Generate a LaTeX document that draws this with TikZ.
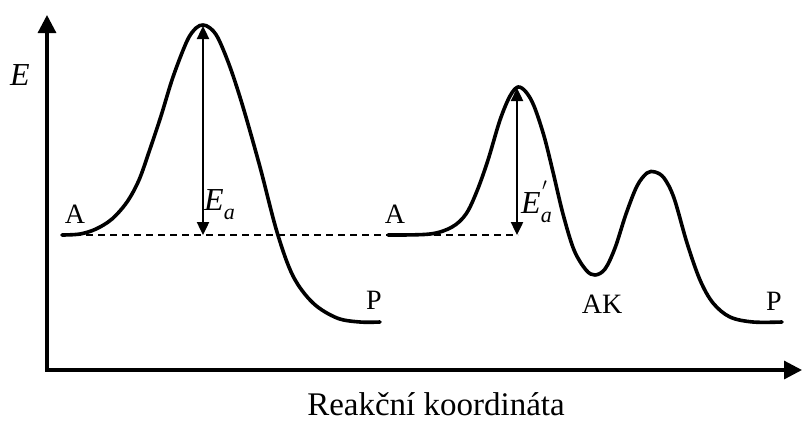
\documentclass[tikz,border=0pt]{standalone}
\usepackage{fontspec}
\setmainfont{Liberation Serif}
\usetikzlibrary{arrows.meta}
\begin{document}
\begin{tikzpicture}[x=1pt,y=-1pt,
  curve/.style={line width=3.6pt, line cap=round, line join=round},
  axis/.style={line width=3.2pt, line join=miter, {Triangle[width=18pt,length=18pt]}-{Triangle[width=18pt,length=18pt]}},
  ea/.style={line width=2.4pt, {Triangle[width=12pt,length=13pt]}-{Triangle[width=12pt,length=13pt]}},
  lvl/.style={line width=1.7pt, dash pattern=on 7pt off 5pt},
  lbl/.style={font=\fontsize{28}{32}\selectfont, inner sep=0pt, anchor=base},
  xlbl/.style={font=\fontsize{33}{38}\selectfont, inner sep=0pt, anchor=base},
  elbl/.style={font=\fontsize{32}{36}\selectfont, inner sep=0pt}]
\useasboundingbox (0,0) rectangle (802,421);
% axes
\coordinate (O) at (47,370);
\coordinate (ytip) at (47,15);
\coordinate (xtip) at (802,370);
\draw[axis] (ytip) -- (O) -- (xtip);
\node[elbl, anchor=base] (Elab) at (20,85) {\textit{E}};
\node[xlbl] (xlab) at (436,415) {Reakční koordináta};
% level line
\coordinate (A1) at (62,235);
\coordinate (B2) at (518,235);
\draw[lvl] (A1) -- (B2);
% first profile
\draw[curve] plot[smooth, tension=0.55] coordinates {
 (62,235) (80,234) (96,229) (112,219) (127,202) (139,180) (150,149) (161,116) (173,77) (187,41) (196,28) (203,25)
 (210,28) (218,38) (230,67) (243,107) (260,167) (277,232) (293,276) (313,303) (337,318) (360,322) (380,322)};
% second profile
\draw[curve] plot[smooth, tension=0.55] coordinates {
 (388,235) (430,234) (452,227) (466,214) (477,191) (488,160) (500,120) (510,96) (518,87)
 (526,92) (534,106) (544,136) (553,172) (563,214) (574,250) (586,270) (595,275)
 (605,269) (615,248) (626,214) (637,186) (647,173) (655,172) (664,178) (674,198) (687,243) (700,280) (713,303) (730,317) (753,322) (782,322)};
% activation energy arrows
\coordinate (p1) at (203,26);
\coordinate (b1) at (203,235);
\draw[ea] (b1) -- (p1);
\coordinate (p2) at (517,88);
\coordinate (b2) at (517,235);
\draw[ea] (b2) -- (p2);
% labels
\node[lbl] (Alab1) at (75,223) {A};
\node[lbl] (Alab2) at (395,223) {A};
\node[lbl] (Plab1) at (374,309) {P};
\node[lbl] (Plab2) at (774,310) {P};
\node[lbl] (AKlab) at (602,313) {AK};
\node[elbl, anchor=base west] (Ealab) at (204,210) {\textit{E}\raisebox{-0.3em}{\fontsize{22}{24}\selectfont\textit{a}}};
\node[elbl, anchor=base west] (Ea2lab) at (521,213) {\textit{E}\rlap{\hspace{0.04em}\raisebox{0.42em}{\fontsize{24}{26}\selectfont$'$}}\raisebox{-0.3em}{\fontsize{22}{24}\selectfont\textit{a}}};
\end{tikzpicture}
\end{document}
